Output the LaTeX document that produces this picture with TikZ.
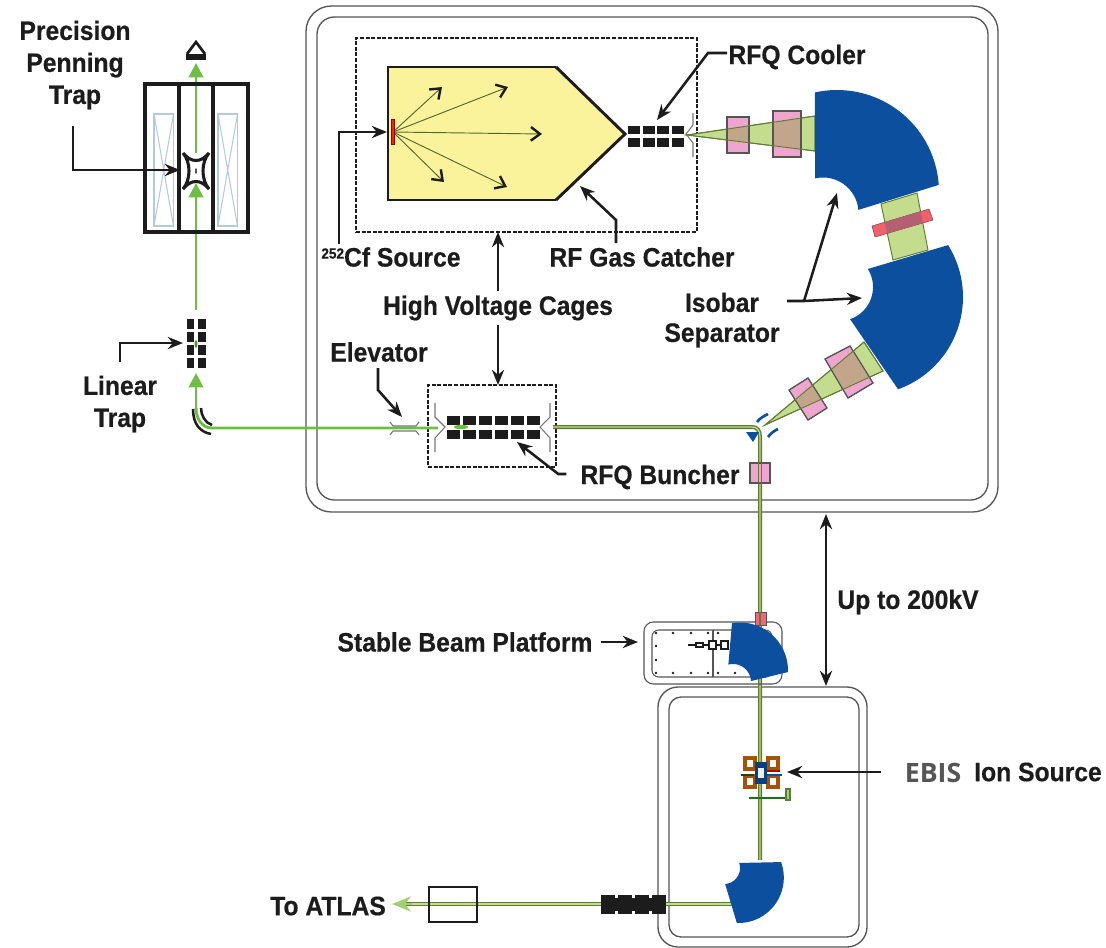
\documentclass[tikz,border=0pt]{standalone}
\usepackage{fontspec}
\usepackage{xcolor}
\usepackage{tikz}
\usetikzlibrary{arrows.meta,positioning}
\newfontfamily\cbfont{Liberation Sans}[BoldFeatures={FakeStretch=0.925,FakeBold=0.5}]
\newfontfamily\cbebisfont{Open Sans}
\definecolor{cbInk}{HTML}{1C1C1C}
\definecolor{cbCage}{HTML}{555555}
\definecolor{cbBlue}{HTML}{0B4F9E}
\definecolor{cbYellow}{HTML}{FBF29C}
\definecolor{cbCone}{HTML}{C3DC8E}
\definecolor{cbOlive}{HTML}{5F7D30}
\definecolor{cbGreen}{HTML}{6FBE44}
\definecolor{cbPink}{HTML}{EFA6CE}
\definecolor{cbTan}{HTML}{C2A68C}
\definecolor{cbRed}{HTML}{F2606C}
\definecolor{cbWine}{HTML}{B55F74}
\definecolor{cbCoil}{HTML}{B4CAD8}
\tikzset{
  cb diagram/.style={x=0.75pt, y=-0.75pt, line join=miter},
  cb label/.style={font=\cbfont\bfseries\fontsize{20}{24}\selectfont, text=cbInk, align=center, inner sep=3pt},
  cb cage/.style={draw=cbCage, line width=1pt},
  cb hv/.style={draw=cbInk, line width=2.2pt, dash pattern=on 3pt off 1.2pt, inner sep=0pt, outer sep=0pt},
  cb pointer/.style={-{Stealth[length=4mm,width=3.2mm]}, draw=cbInk, line width=1.9pt},
  cb ray/.style={-{Straight Barb[length=2.4mm,width=3.6mm,color=cbInk,line width=1.8pt]}, draw=cbOlive!80!cbInk, line width=0.7pt},
  cb block/.style={fill=cbInk},
  cb funnel/.style={draw=cbCage!80, line width=0.8pt},
  cb beam/.style={draw=cbOlive, double=cbCone, double distance=1pt, line width=1pt},
  cb thin beam/.style={draw=cbGreen, line width=2.2pt},
  cb green tip/.style={-{Triangle[length=3.8mm,width=3.8mm]}, draw=cbGreen, line width=2.2pt},
  cb cone/.style={fill=cbCone, draw=cbOlive, line width=0.7pt},
  cb lens/.style={fill=cbPink, draw=cbCage, line width=0.8pt},
  cb coil/.style={draw=cbCoil, line width=0.8pt},
  cb frame/.style={draw=cbInk, line width=2.3pt}
}
\newcommand{\cbmagnet}[5]{\def\cbox{#1}\def\cboy{#2}\def\cboa{#3}\def\cbob{#4}\def\cbor{#5}\cbmagnetinner}
\newcommand{\cbmagnetinner}[5]{%
  \fill[cbBlue] plot[domain=\cboa:\cbob,samples=36] ({\cbox+\cbor*cos(\x)},{\cboy+\cbor*sin(\x)})
    -- plot[domain=#3:#4,samples=36] ({#1+#5*cos(\x)},{#2+#5*sin(\x)}) -- cycle;}
\begin{document}
\begin{tikzpicture}[cb diagram]
\useasboundingbox (0,0) rectangle (1106,947);
% cages
\draw[cb cage,rounded corners=19pt] (306,6) rectangle (998,512);
\draw[cb cage,rounded corners=13pt] (317,17) rectangle (988,500);
\draw[cb cage,rounded corners=15pt] (658,687) -- (867,687) -- (867,947) -- (658,947) -- cycle;
\draw[cb cage,rounded corners=9pt] (669,697) -- (859,697) -- (859,937) -- (669,937) -- cycle;
\node[cb hv,minimum width=255.75pt,minimum height=145.5pt] (hvtop) at (526.5,135) {};
\node[cb hv,minimum width=96pt,minimum height=61.5pt] (hvlow) at (492,426) {};
% gas catcher
\fill[cbYellow] (388,67) -- (556,67) -- (625,134) -- (556,200) -- (388,200) -- cycle;
\draw[draw=cbInk,line width=1.5pt] (556,67) -- (388,67) -- (388,200) -- (556,200);
\draw[draw=cbInk,line width=2.2pt] (556,67) -- (625,134) -- (556,200);
\coordinate (cfbar) at (393,132);
\foreach \tx/\ty in {442/87,508/87,542/134,444/182,507/187}{
  \draw[cb ray] (cfbar) -- (\tx,\ty);
}
\fill[red!75!orange,draw=red!55!black,line width=0.3pt] (391,119) rectangle (394,144);
% rfq cooler
\foreach \x in {628,642.5,657,671.5}{
  \fill[cb block] (\x,125.5) rectangle +(12,8.5);
  \fill[cb block] (\x,137.5) rectangle +(12,9);
}
\draw[cb funnel] (693,113) -- (693,125) -- (686,134) -- (693,143) -- (693,157);
% beam lines
\draw[cb beam] (553,427) -- (752,427) .. controls (757,427) and (760,430) .. (760,437) -- (760,860);
\draw[cb beam] (735,904) -- (405,904);
\draw[cb thin beam] (438,428) -- (212,428) .. controls (203,428) and (196,420) .. (196,408);
\draw[cb green tip] (196,408) -- (196,373);
\draw[cb green tip] (196,310) -- (196,183);
\draw[cb green tip] (196,153) -- (196,63);
\draw[cb green tip,draw=cbCone!60!cbGreen,-{Stealth[length=5mm,width=4mm]},line width=1pt] (412,904) -- (392,904);
% first cone and lenses
\def\coneA{(687,135) -- (815,116) -- (815,151) -- cycle}
\draw[cb cone] \coneA;
\foreach \lens in {{(727,117) rectangle (749,153)},{(773,111) rectangle (801,157)}}{
  \draw[cb lens] \lens;
  \begin{scope}
    \clip \coneA;
    \fill[cbTan] \lens;
  \end{scope}
  \draw[cb lens,fill=none] \lens;
}
\draw[cb cone,fill=none] \coneA;
% second cone and lenses
\def\coneB{(765,425) -- (864,342) -- (883,371) -- cycle}
\draw[cb cone] \coneB;
\foreach \lens in {{(789,390) -- (808,378) -- (827,408) -- (808,420) -- cycle},{(825,359) -- (850,346) -- (873,383) -- (848,398) -- cycle}}{
  \draw[cb lens] \lens;
  \begin{scope}
    \clip \coneB;
    \fill[cbTan] \lens;
  \end{scope}
  \draw[cb lens,fill=none] \lens;
}
\draw[cb cone,fill=none] \coneB;
% isobar separator
\def\bandpath{(872,226) -- (929,209) -- (933,220) -- (875,237) -- cycle}
\draw[cb cone] (881,204) -- (917,193) -- (928,250) -- (893,260) -- cycle;
\fill[cbRed,draw=cbWine!70!black,line width=0.4pt] \bandpath;
\begin{scope}
  \clip (881,204) -- (917,193) -- (928,250) -- (893,260) -- cycle;
  \fill[cbWine] \bandpath;
\end{scope}
\cbmagnet{837}{192}{-102.5}{-4}{102}{823}{213}{-5}{-103}{35.5}
\cbmagnet{865}{297}{-32}{70.3}{98}{839}{287}{71}{-32}{34}
% bend at the buncher
\fill[cbBlue] (746,432) -- (759,432) -- (753,442) -- cycle;
\draw[draw=cbBlue,line width=2pt] (757,422) .. controls (760,418) and (764,416) .. (768,414);
\draw[draw=cbBlue,line width=2pt] (768,437) .. controls (771,433) and (774,431) .. (778,429);
\fill[cbPink,draw=cbCage,line width=0.8pt] (750,463) rectangle (770,483);
\draw[draw=cbOlive,line width=1pt] (758.6,463) -- (758.6,483) (761.4,463) -- (761.4,483);
% rfq buncher
\foreach \x in {447,463,479,495,511,527}{
  \fill[cb block] (\x,415.5) rectangle +(12.5,9);
  \fill[cb block] (\x,429.5) rectangle +(12.5,9);
}
\fill[cbGreen] (461,427) ellipse (7 and 2.2);
\draw[cb funnel] (435,403) -- (435,417) -- (445,427) -- (435,438) -- (435,452);
\draw[cb funnel] (550,403) -- (550,417) -- (540,427) -- (550,438) -- (550,452);
% elevator
\draw[cb funnel] (390,422) -- (393,426) -- (416,426) -- (419,422);
\draw[cb funnel] (390,435) -- (393,431) -- (416,431) -- (419,435);
% linear trap and bender
\foreach \y in {319,332,345,358}{
  \fill[cb block] (187,\y) rectangle +(7,10);
  \fill[cb block] (198,\y) rectangle +(7.5,10);
}
\fill[cbGreen!70!cbInk] (196,344) ellipse (1.5 and 4);
\draw[draw=cbInk,line width=1.9pt] (193,409) .. controls (193,424) and (200,432) .. (211,434);
\draw[draw=cbInk,line width=1.9pt] (201,408) .. controls (201,415) and (205,423) .. (212,425);
% penning trap
\draw[cb frame] (145,232) -- (145,84) -- (248,84) -- (248,232) -- cycle;
\draw[cb frame] (179,84) -- (179,232) (213,84) -- (213,232);
\foreach \x in {154,218}{
  \draw[cb coil] (\x,114) rectangle +(19.5,112);
  \draw[cb coil] (\x,114) -- +(19.5,112) (\x,226) -- +(19.5,-112);
}
\draw[draw=cbInk,line width=2.3pt] (183,153) .. controls (191,163) and (201,163) .. (209,153)
  .. controls (201,162) and (201,180) .. (209,189)
  .. controls (201,179) and (191,179) .. (183,189)
  .. controls (191,180) and (191,162) .. (183,153);
\fill[cbCage] (196,171) ellipse (1 and 3);
\draw[draw=cbInk,line width=2pt] (187,54) -- (196,42) -- (205,54);
\fill[cbInk] (186,54) rectangle (206,59.5);
% stable beam platform
\draw[cb cage,line width=0.8pt,rounded corners=7pt] (644,622) rectangle (782,684);
\draw[cb cage,line width=0.8pt,rounded corners=5pt] (652,630) rectangle (772,677);
\draw[cb cage,line width=0.8pt] (713,630) -- (713,677);
\foreach \x in {656,673,691,708,718}{
  \fill[cbInk] (\x,633) circle (1.4);
  \fill[cbInk] (\x,673) circle (1.4);
}
\fill[cbInk] (735,673) circle (1.4);
\foreach \y in {646,660}{
  \fill[cbInk] (656,\y) circle (1.4);
}
\draw[draw=cbInk,line width=1.8pt] (688,645) -- (728,645);
\fill[white,draw=cbInk,line width=1.2pt] (696,643) rectangle (703,647);
\fill[white,draw=cbInk,line width=1.2pt] (709,641) rectangle (716,649);
\fill[white,draw=cbInk,line width=1.2pt] (721,641) rectangle (728,649);
\fill[cbPink!60!red,draw=cbCage,line width=0.4pt] (755,612) rectangle (766,625);
\draw[draw=cbOlive,line width=1pt] (760,612) -- (760,625);
\cbmagnet{740}{670.5}{-99.6}{1.8}{48}{733}{682}{-3}{-105}{18}
% ebis
\foreach \x/\y in {745/758,768/758,745/776,768/776}{
  \draw[draw=orange!65!black,line width=2.6pt] (\x,\y) rectangle +(10,11);
}
\fill[cbBlue!80!black] (755,762) rectangle (767,784);
\fill[white!70!cbCoil] (758,768) rectangle (764,778);
\draw[draw=red!70!black,line width=1.2pt] (767,771) -- (780,771);
\draw[draw=cbInk!70!cbOlive,line width=1.8pt] (741,775) -- (754,775);
\draw[draw=cbBlue,line width=1.8pt] (767,775) -- (782,775);
\draw[draw=cbInk!60!green,line width=1.9pt] (749,798) -- (787,798);
\fill[cbGreen!70,draw=cbOlive,line width=0.8pt] (786,789) rectangle (790,800);
% lower beam
\cbmagnet{738.4}{877.6}{-20}{92}{45.4}{724}{868}{86}{-18.4}{16}
\fill[cb block] (601,898) rectangle (666,911);
\foreach \x in {601,618,635,652}{
  \fill[cb block] (\x,895) rectangle +(14,19);
}
\draw[draw=cbInk,line width=1.6pt] (429,887) rectangle (477,922);
% labels
\node[cb label] (penning) at (75,65) {Precision\\Penning\\Trap};
\node[cb label] (cooler) at (797,57) {RFQ Cooler};
\node[cb label] (cfsource) at (391,257) {\raisebox{6pt}{\fontsize{11}{11}\selectfont 252}Cf Source};
\node[cb label] (catcher) at (642,257) {RF Gas Catcher};
\node[cb label] (hvlabel) at (498,308) {High Voltage Cages};
\node[cb label] (isobar) at (722,320) {Isobar\\[-1.5pt]Separator};
\node[cb label] (elevator) at (379,352) {Elevator};
\node[cb label] (lintrap) at (120,404) {Linear\\Trap};
\node[cb label] (buncher) at (660,477) {RFQ Buncher};
\node[cb label] (uplabel) at (908,602) {Up to 200kV};
\node[cb label] (platform) at (465,642) {Stable Beam Platform};
\node[cb label,font=\cbebisfont\bfseries\fontsize{20}{20}\selectfont,text=cbCage] (ebislabel) at (933,773) {EBIS};
\node[cb label] (ionsource) at (1038,772) {Ion Source};
\node[cb label] (atlas) at (328,906) {To ATLAS};
% pointers
\coordinate (ptraptip) at (180,170);
\coordinate (cftip) at (387,132);
\coordinate (coolertip) at (657,120);
\coordinate (catchertip) at (580,186);
\coordinate (isotip) at (837,193);
\coordinate (isolow) at (862,298);
\coordinate (isofork) at (804,301);
\coordinate (elevtip) at (402,417);
\coordinate (lintip) at (183,343);
\coordinate (bunchtip) at (517,442);
\coordinate (kvtop) at (826,514);
\coordinate (kvbot) at (826,686);
\coordinate (kvmid) at (826,600);
\coordinate (ebistip) at (787,772);
\coordinate (platformtip) at (638,642);
\draw[cb pointer] (penning.south) ++(-2,12) |- (ptraptip);
\draw[cb pointer] (339,244) |- (cftip);
\draw[cb pointer] (727,53) -- (708,53) -- (coolertip);
\draw[cb pointer] (616,243) -- (616,220) -- (catchertip);
\draw[cb pointer] (hvlabel.north) -- (hvlabel.north |- hvtop.south);
\draw[cb pointer] (hvlabel.south) -- (hvlabel.south |- hvlow.north);
\draw[cb pointer] (787,301) -- (isofork) -- (isolow);
\draw[cb pointer] (isofork) -- (isotip);
\draw[cb pointer] (378,368) -- (378,390) -- (elevtip);
\draw[cb pointer] (120,362) |- (lintip);
\draw[cb pointer] (buncher.west) ++(-10,-3) -- ++(-8,0) -- (bunchtip);
\draw[cb pointer] (kvmid) -- (kvtop);
\draw[cb pointer] (kvmid) -- (kvbot);
\draw[cb pointer,shorten <=3pt] (platform.east) -- (platformtip);
\draw[cb pointer] (ebislabel.west) ++(-20,-1) -- (ebistip);
\end{tikzpicture}
\end{document}
